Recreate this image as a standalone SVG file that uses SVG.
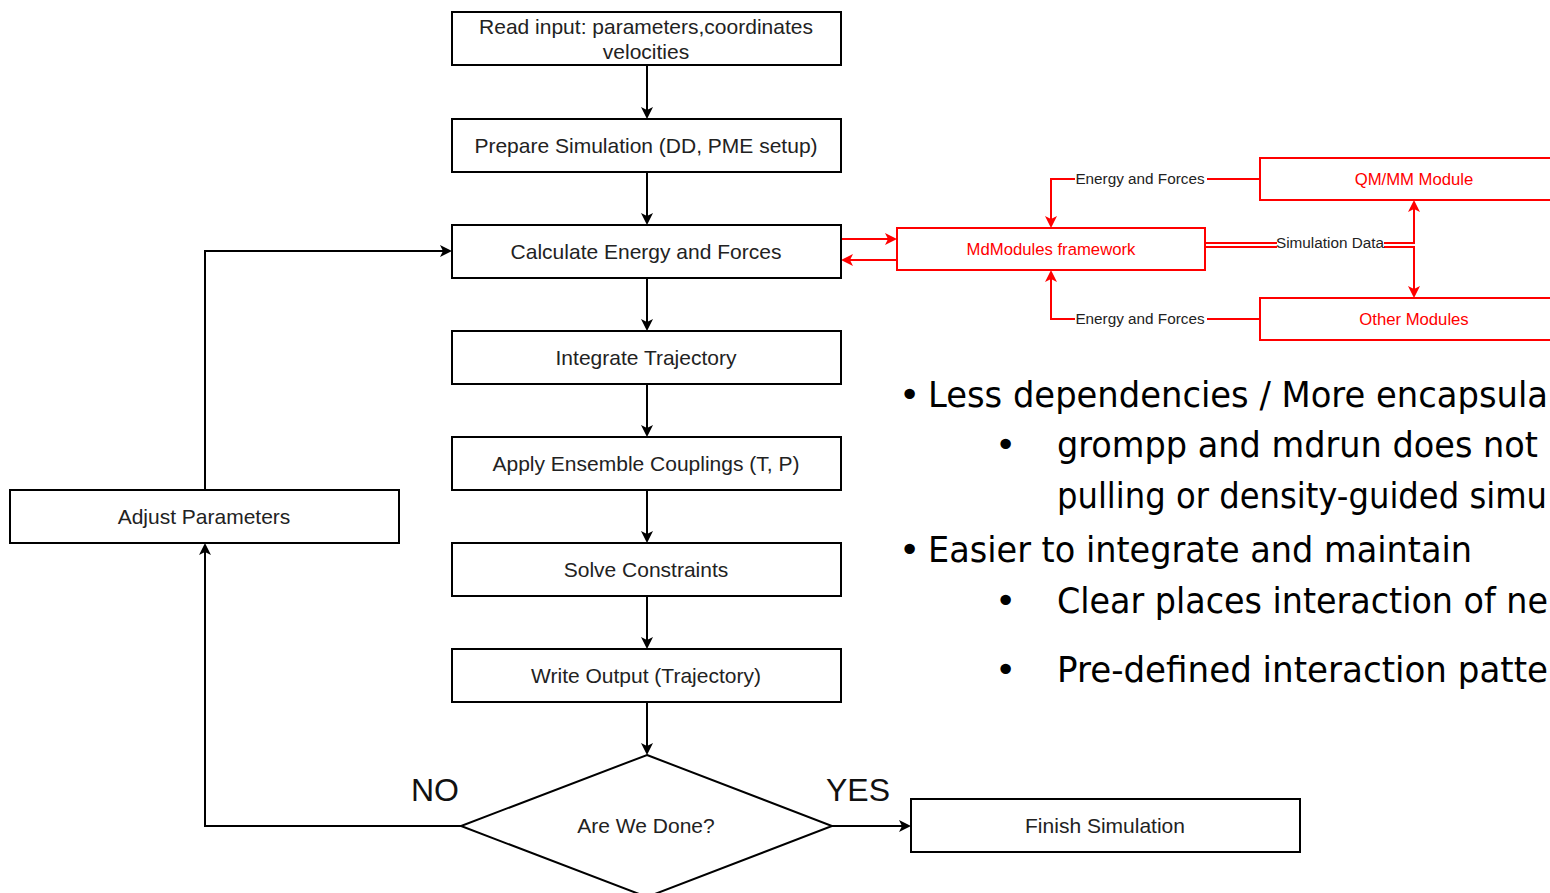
<svg xmlns="http://www.w3.org/2000/svg" width="1550" height="893" viewBox="0 0 1550 893">
<style>
.box{fill:#fff;stroke:#000;stroke-width:2}
.rbox{fill:#fff;stroke:#ff0000;stroke-width:2}
.t{font-family:"Liberation Sans",Arial,sans-serif;font-size:21px;fill:#222;text-anchor:middle}
.rt{font-family:"Liberation Sans",Arial,sans-serif;font-size:16.7px;fill:#ff0000;text-anchor:middle}
.lt{font-family:"Liberation Sans",Arial,sans-serif;font-size:15.3px;fill:#222;text-anchor:middle}
.big{font-family:"Liberation Sans",Arial,sans-serif;font-size:32px;fill:#111;text-anchor:middle}
.bul{font-family:"DejaVu Sans","Liberation Sans",sans-serif;font-size:36px;fill:#000}
.c{fill:none;stroke:#000;stroke-width:2}
.rc{fill:none;stroke:#ff0000;stroke-width:2}
</style>
<defs>
<marker id="ah" markerWidth="12" markerHeight="12" refX="10" refY="6" orient="auto" markerUnits="userSpaceOnUse">
<path d="M0,0 L12,6 L0,12 L3,6 Z" fill="#000"/>
</marker>
<marker id="rah" markerWidth="12" markerHeight="12" refX="10" refY="6" orient="auto" markerUnits="userSpaceOnUse">
<path d="M0,0 L12,6 L0,12 L3,6 Z" fill="#ff0000"/>
</marker>
</defs>
<rect width="1550" height="893" fill="#fff"/>
<g id="connectors">
<line class="c" x1="647" y1="65" x2="647" y2="117" marker-end="url(#ah)"/>
<line class="c" x1="647" y1="172" x2="647" y2="223" marker-end="url(#ah)"/>
<line class="c" x1="647" y1="278" x2="647" y2="329" marker-end="url(#ah)"/>
<line class="c" x1="647" y1="384" x2="647" y2="435" marker-end="url(#ah)"/>
<line class="c" x1="647" y1="490" x2="647" y2="541" marker-end="url(#ah)"/>
<line class="c" x1="647" y1="596" x2="647" y2="647" marker-end="url(#ah)"/>
<line class="c" x1="647" y1="702" x2="647" y2="753" marker-end="url(#ah)"/>
<line class="c" x1="832" y1="826" x2="909" y2="826" marker-end="url(#ah)"/>
<polyline class="c" points="461,826 205,826 205,545" marker-end="url(#ah)"/>
<polyline class="c" points="205,490 205,251 450,251" marker-end="url(#ah)"/>
<line class="rc" x1="841" y1="239" x2="895" y2="239" marker-end="url(#rah)"/>
<line class="rc" x1="897" y1="260" x2="843" y2="260" marker-end="url(#rah)"/>
<polyline class="rc" points="1260,179 1051,179 1051,226" marker-end="url(#rah)"/>
<polyline class="rc" points="1260,319 1051,319 1051,272" marker-end="url(#rah)"/>
<polyline class="rc" points="1205,243 1414,243 1414,202" marker-end="url(#rah)"/>
<polyline class="rc" points="1205,247 1414,247 1414,296" marker-end="url(#rah)"/>
<rect x="1075" y="170" width="132" height="18" fill="#fff"/>
<text class="lt" x="1140" y="184">Energy and Forces</text>
<rect x="1075" y="310" width="132" height="18" fill="#fff"/>
<text class="lt" x="1140" y="324">Energy and Forces</text>
<rect x="1277" y="235" width="107" height="17" fill="#fff"/>
<text class="lt" x="1330" y="248">Simulation Data</text>
<text class="big" x="435" y="801">NO</text>
<text class="big" x="858" y="801">YES</text>
</g>
<g id="read"><rect class="box" x="452" y="12" width="389" height="53"/><text class="t" x="646" y="34">Read input: parameters,coordinates</text><text class="t" x="646" y="59">velocities</text></g>
<g id="prepare"><rect class="box" x="452" y="119" width="389" height="53"/><text class="t" x="646" y="153">Prepare Simulation (DD, PME setup)</text></g>
<g id="calc"><rect class="box" x="452" y="225" width="389" height="53"/><text class="t" x="646" y="259">Calculate Energy and Forces</text></g>
<g id="integrate"><rect class="box" x="452" y="331" width="389" height="53"/><text class="t" x="646" y="365">Integrate Trajectory</text></g>
<g id="ensemble"><rect class="box" x="452" y="437" width="389" height="53"/><text class="t" x="646" y="471">Apply Ensemble Couplings (T, P)</text></g>
<g id="constraints"><rect class="box" x="452" y="543" width="389" height="53"/><text class="t" x="646" y="577">Solve Constraints</text></g>
<g id="output"><rect class="box" x="452" y="649" width="389" height="53"/><text class="t" x="646" y="683">Write Output (Trajectory)</text></g>
<g id="done"><polygon points="647,755 832,826 647,897 461,826" fill="#fff" stroke="#000" stroke-width="2"/><text class="t" x="646" y="833">Are We Done?</text></g>
<g id="finish"><rect class="box" x="911" y="799" width="389" height="53"/><text class="t" x="1105" y="833">Finish Simulation</text></g>
<g id="adjust"><rect class="box" x="10" y="490" width="389" height="53"/><text class="t" x="204" y="524">Adjust Parameters</text></g>
<g id="mdmodules"><rect class="rbox" x="897" y="228" width="308" height="42"/><text class="rt" x="1051" y="255">MdModules framework</text></g>
<g id="qmmm"><rect class="rbox" x="1260" y="158" width="300" height="42"/><text class="rt" x="1414" y="185">QM/MM Module</text></g>
<g id="other"><rect class="rbox" x="1260" y="298" width="300" height="42"/><text class="rt" x="1414" y="325">Other Modules</text></g>
<g id="bullets">
<text class="bul" x="899" y="407">•</text><text class="bul" x="928" y="407" textLength="620" lengthAdjust="spacingAndGlyphs">Less dependencies / More encapsula</text>
<text class="bul" x="995" y="457">•</text><text class="bul" x="1057" y="457" textLength="481" lengthAdjust="spacingAndGlyphs">grompp and mdrun does not</text>
<text class="bul" x="1057" y="508" textLength="490" lengthAdjust="spacingAndGlyphs">pulling or density-guided simu</text>
<text class="bul" x="899" y="562">•</text><text class="bul" x="928" y="562" textLength="544" lengthAdjust="spacingAndGlyphs">Easier to integrate and maintain</text>
<text class="bul" x="995" y="613">•</text><text class="bul" x="1057" y="613" textLength="491" lengthAdjust="spacingAndGlyphs">Clear places interaction of ne</text>
<text class="bul" x="995" y="682">•</text><text class="bul" x="1057" y="682" textLength="491" lengthAdjust="spacingAndGlyphs">Pre-defined interaction patte</text>
</g>
</svg>
